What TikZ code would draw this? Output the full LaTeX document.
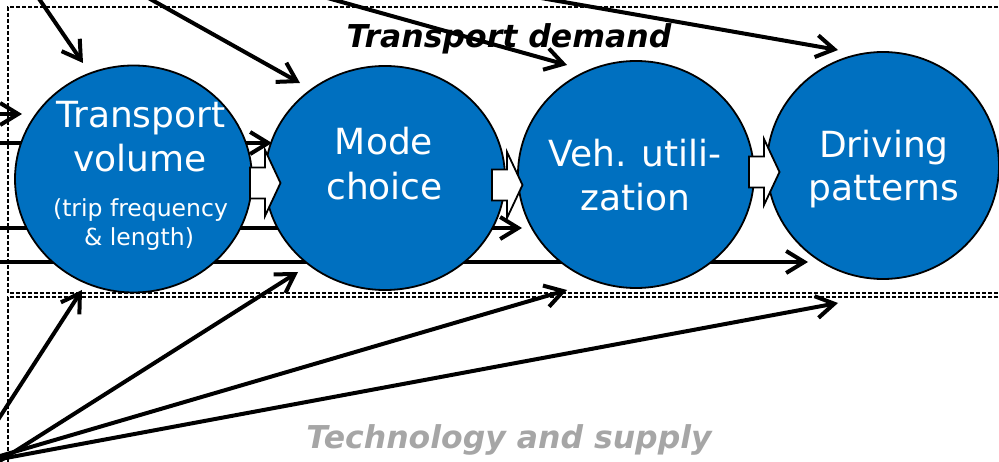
\documentclass[tikz,border=0pt]{standalone}
\usepackage{fontspec}
\setmainfont{DejaVu Sans}
\usetikzlibrary{arrows.meta,shapes.geometric}
\definecolor{discblue}{RGB}{0,112,192}
\definecolor{labelgray}{RGB}{166,166,166}
\tikzset{
  frame/.style={draw=black, line width=1.3pt, dash pattern=on 4pt off 2pt},
  influence/.style={line width=4pt, -{Straight Barb[length=18pt,width=22pt]}},
  disc/.style={ellipse, draw=black, line width=1.8pt, fill=discblue, inner sep=0pt},
  flowarrow/.style={draw=black, fill=white, line width=1.8pt, line join=miter},
  bigtext/.style={anchor=base, inner sep=0pt, text=white, font=\fontsize{36}{43}\selectfont},
  smalltext/.style={anchor=base, inner sep=0pt, text=white, font=\fontsize{23.5}{28}\selectfont},
  areatitle/.style={anchor=base, inner sep=0pt, font=\fontsize{31.5}{37}\selectfont\bfseries\itshape},
}
\begin{document}
\begin{tikzpicture}[x=1pt,y=-1pt]
\useasboundingbox (0,0) rectangle (999,462);
\clip (0,0) rectangle (999,462);

% the two areas: demand (top) and technology/supply (bottom)
\draw[frame] (1010,7) -- (8,7) -- (8,293) -- (1010,293);
\draw[frame] (1010,297) -- (8,297) -- (8,470);

% sources of influence lying outside the view
\coordinate (srcTop) at (-30,-102);
\coordinate (srcLeft) at (-10,114);
\coordinate (srcA) at (-10,143);
\coordinate (srcB) at (-10,228);
\coordinate (srcC) at (-10,262);
\coordinate (srcBa) at (-28,460);
\coordinate (srcBb) at (-5,464);
\coordinate (srcBc) at (-5,457.5);
\coordinate (srcBd) at (-5,460);

% arrow targets near the discs
\coordinate (volTop) at (83,63);
\coordinate (modTop) at (300,83);
\coordinate (vehTop) at (567,65);
\coordinate (drvTop) at (838,50);
\coordinate (volLeft) at (22,114);
\coordinate (modLeft) at (272,143);
\coordinate (vehLeft) at (522,228);
\coordinate (drvLeft) at (808,262);
\coordinate (volBot) at (82,290);
\coordinate (modBot) at (298,272);
\coordinate (vehBot) at (567,290);
\coordinate (drvBot) at (838,303);

% influences from above
\foreach \t in {volTop,modTop,vehTop,drvTop}
  \draw[influence] (srcTop) -- (\t);
% influences from the left
\draw[influence] (srcLeft) -- (volLeft);
\draw[influence] (srcA) -- (modLeft);
\draw[influence] (srcB) -- (vehLeft);
\draw[influence] (srcC) -- (drvLeft);
% influences from technology and supply
\draw[influence] (srcBa) -- (volBot);
\draw[influence] (srcBb) -- (modBot);
\draw[influence] (srcBc) -- (vehBot);
\draw[influence] (srcBd) -- (drvBot);

% the four stages
\node[disc, minimum width=237pt, minimum height=227pt] (vol) at (133.5,179) {};
\node[disc, minimum width=240pt, minimum height=224pt] (mod) at (385,178) {};
\node[disc, minimum width=236pt, minimum height=227pt] (veh) at (636,174.5) {};
\node[disc, minimum width=232pt, minimum height=227pt] (drv) at (883,165.5) {};

% block arrows linking consecutive stages
\coordinate (f12) at (250,183);
\coordinate (f23) at (492,185);
\coordinate (f34) at (749,172);
\foreach \f in {f12,f23,f34}
  \draw[flowarrow] (\f) ++(0,-15.5) -- ++(15,0) -- ++(0,-17.5) -- ++(15.5,33)
    -- ++(-15.5,33) -- ++(0,-17.5) -- ++(-15,0) -- cycle;

% stage labels
\node[bigtext] (volA) at (141,128) {Transport};
\node[bigtext] (volB) at (140,172) {volume};
\node[smalltext] (volC) at (140.5,217) {(trip frequency};
\node[smalltext] (volD) at (139,246) {\& length)};
\node[bigtext] (modA) at (384,155) {Mode};
\node[bigtext] (modB) at (384.5,200) {choice};
\node[bigtext] (vehA) at (635,167) {Veh. utili-};
\node[bigtext] (vehB) at (635.5,211) {zation};
\node[bigtext] (drvA) at (884,158) {Driving};
\node[bigtext] (drvB) at (884,201) {patterns};

% area titles
\node[areatitle] (dem) at (509,48) {Transport demand};
\node[areatitle, text=labelgray] (tech) at (509,448) {Technology and supply};
\end{tikzpicture}
\end{document}
